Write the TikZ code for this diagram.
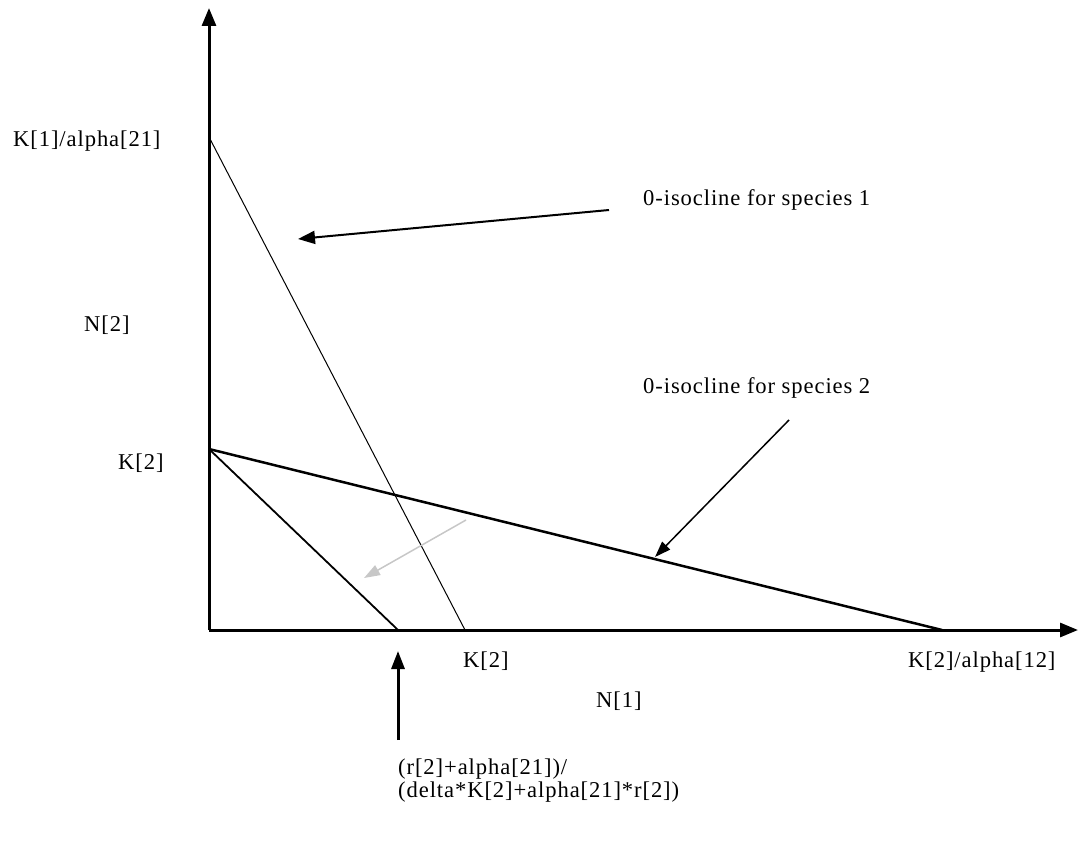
\documentclass[tikz,border=0pt]{standalone}
\usepackage{fontspec}
\setmainfont{Liberation Serif}[LetterSpace=4]
\usetikzlibrary{arrows.meta}
\begin{document}
\begin{tikzpicture}[x=1pt,y=-1pt,
  lbl/.style={anchor=base west,inner sep=0pt,font=\fontsize{22.6}{27}\selectfont},
  axis/.style={line width=3pt,-{Triangle[length=18pt,width=14pt]}},
  pointer/.style={line width=2pt,-{Triangle[length=17pt,width=13pt]}}]
\useasboundingbox (0,0) rectangle (1078,842);
\coordinate (O) at (209,630);
\coordinate (ytop) at (209,8);
\coordinate (xend) at (1078,630);
\coordinate (k1a) at (209,137);
\coordinate (k2x) at (465,630);
\coordinate (k2y) at (209,449);
\coordinate (k2a) at (942,630);
\coordinate (rx) at (398,630);
\draw[axis] (O) -- (ytop);
\draw[axis] (O) -- (xend);
\draw[line width=1pt] (k1a) -- (k2x);
\draw[line width=2.5pt] (k2y) -- (k2a);
\draw[line width=1.8pt] (k2y) -- (rx);
% labels
\node[lbl] (lk1) at (13,147) {K[1]/alpha[21]};
\node[lbl] (ln2) at (84,331) {N[2]};
\node[lbl] (lk2y) at (118,469) {K[2]};
\node[lbl] (lk2x) at (463,667) {K[2]};
\node[lbl] (lk2a) at (908,667) {K[2]/alpha[12]};
\node[lbl] (ln1) at (596,707) {N[1]};
\node[lbl] (ls1) at (643,206) {0-isocline for species 1};
\node[lbl] (ls2) at (643,393) {0-isocline for species 2};
\node[lbl] (lr1) at (398,774) {(r[2]+alpha[21])/};
\node[lbl] (lr2) at (398,797) {(delta*K[2]+alpha[21]*r[2])};
% pointers
\coordinate (a1s) at (609,210);
\coordinate (a1e) at (298,239);
\coordinate (a2s) at (789,420);
\coordinate (a2e) at (655,557);
\coordinate (a3s) at (398,740);
\coordinate (a3e) at (398,651);
\coordinate (gs) at (466,520);
\coordinate (ge) at (364,578);
\draw[pointer] (a1s) -- (a1e);
\draw[line width=1.5pt,-{Triangle[length=16pt,width=11pt]}] (a2s) -- (a2e);
\draw[line width=3pt,-{Triangle[length=18pt,width=13pt]}] (a3s) -- (a3e);
\draw[line width=1.5pt,color=black!22,-{Triangle[length=16pt,width=11pt]}] (gs) -- (ge);
\end{tikzpicture}
\end{document}
